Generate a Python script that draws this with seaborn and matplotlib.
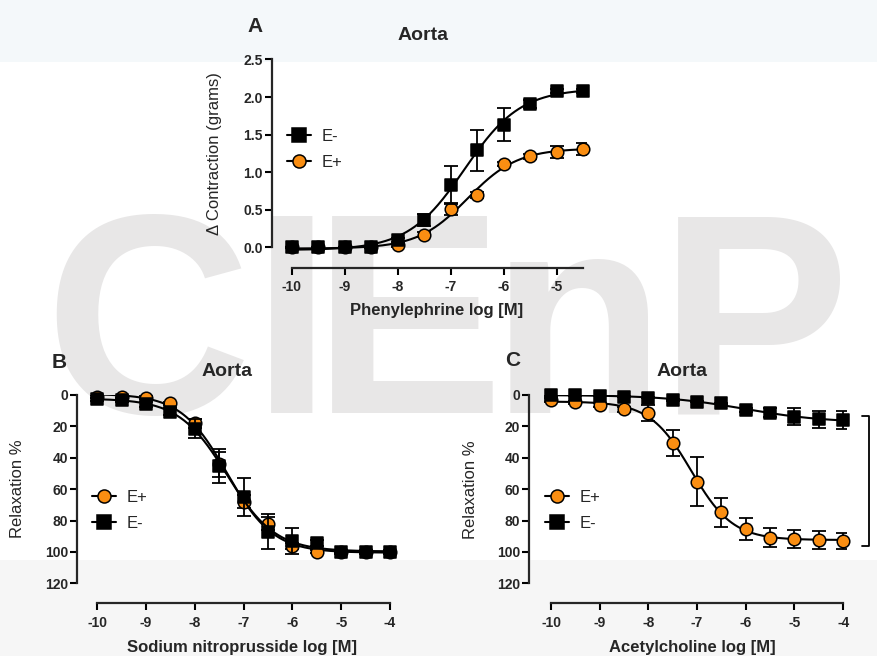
import numpy as np
import pandas as pd
import matplotlib
matplotlib.use("Agg")
import matplotlib.pyplot as plt
import seaborn as sns
from matplotlib.lines import Line2D
from matplotlib.patches import Rectangle
import matplotlib.transforms as mtransforms

# ---------------- data ----------------
conc_A = [-10, -9.5, -9, -8.5, -8, -7.5, -7, -6.5, -6, -5.5, -5, -4.5]
pe_Eminus = [0.0, 0.0, 0.0, 0.01, 0.10, 0.37, 0.83, 1.29, 1.63, 1.91, 2.08, 2.08]
pe_Eminus_sem = [0.01, 0.01, 0.01, 0.01, 0.03, 0.08, 0.25, 0.27, 0.22, 0.05, 0.03, 0.03]
pe_Eplus = [0.0, 0.0, 0.0, 0.0, 0.03, 0.17, 0.51, 0.70, 1.11, 1.21, 1.27, 1.31]
pe_Eplus_sem = [0.01, 0.01, 0.01, 0.01, 0.02, 0.03, 0.08, 0.04, 0.03, 0.03, 0.085, 0.08]

conc_BC = [-10, -9.5, -9, -8.5, -8, -7.5, -7, -6.5, -6, -5.5, -5, -4.5, -4]
snp_Eplus = [1.0, 1.0, 1.7, 5.3, 18.0, 44.0, 68.0, 82.0, 96.0, 99.9, 100.0, 100.0, 100.0]
snp_Eplus_sem = [1, 1, 1, 1, 3, 8, 4, 4, 2, 1, 0.5, 0.5, 0.5]
snp_Eminus = [2.8, 3.2, 5.9, 10.6, 21.5, 45.2, 64.8, 87.0, 93.0, 94.5, 100.0, 100.0, 100.0]
snp_Eminus_sem = [1, 1, 1.5, 2, 6, 11, 12, 11, 8, 2, 1, 1, 1]

ach_Eplus = [3.2, 4.7, 6.4, 9.1, 11.3, 30.4, 55.2, 74.8, 85.6, 90.9, 91.7, 92.4, 92.8]
ach_Eplus_sem = [1, 1, 1, 1.5, 5, 8.3, 15.4, 9.5, 7, 6, 6, 6, 5]
ach_Eminus = [0.0, 0.0, 0.4, 1.0, 1.7, 3.2, 4.2, 5.3, 9.6, 11.3, 13.8, 15.5, 15.9]
ach_Eminus_sem = [0.5, 0.5, 0.5, 0.5, 0.5, 0.5, 0.5, 0.5, 1.5, 3, 5.3, 5.6, 5.8]

bracket_C = [13.4, 96.2]

labels_A = ["E-", "E+"]
labels_BC = ["E+", "E-"]
ticks_x_A = [-10, -9, -8, -7, -6, -5]
ticks_x_BC = [-10, -9, -8, -7, -6, -5, -4]
ticks_y_A = [0.0, 0.5, 1.0, 1.5, 2.0, 2.5]
ticks_y_BC = [0, 20, 40, 60, 80, 100, 120]

ORANGE = "#fa8e12"

# ---------------- style ----------------
sns.set_style("ticks")
plt.rcParams["font.family"] = ["Liberation Sans", "DejaVu Sans"]

W, H = 878, 656
fig = plt.figure(figsize=(W / 100, H / 100), dpi=100)
fig.patch.set_facecolor("white")

# background bands and watermark
fig.patches.append(Rectangle((0, 1 - 62 / H), 1, 62 / H, transform=fig.transFigure,
                             facecolor="#f4f8fa", edgecolor="none", zorder=-3))
fig.patches.append(Rectangle((0, 0), 1, (H - 560) / H, transform=fig.transFigure,
                             facecolor="#f6f6f6", edgecolor="none", zorder=-3))
for ch, cx in zip("CIEnP", [148, 292, 408, 578, 754]):
    fig.text(cx / W, 1 - 413 / H, ch, ha="center", va="baseline", fontsize=206,
             fontweight="bold", color="#e8e7e7", zorder=-2)


def add_ax(left, top, width, height):
    ax = fig.add_axes([left / W, 1 - (top + height) / H, width / W, height / H])
    ax.set_facecolor("none")
    return ax


def fit_sigmoid(x, y):
    x = np.asarray(x, float)
    y = np.asarray(y, float)
    ecs = np.arange(-10.0, -3.0, 0.01)
    hs = np.arange(0.3, 3.0, 0.02)
    EC, HH = np.meshgrid(ecs, hs, indexing="ij")
    F = 1.0 / (1.0 + 10 ** ((EC[..., None] - x) * HH[..., None]))
    fm = F.mean(-1, keepdims=True)
    ym = y.mean()
    cov = ((F - fm) * (y - ym)).sum(-1)
    var = ((F - fm) ** 2).sum(-1) + 1e-12
    slope = cov / var
    inter = ym - slope * fm[..., 0]
    pred = inter[..., None] + slope[..., None] * F
    sse = ((pred - y) ** 2).sum(-1)
    i = np.unravel_index(np.argmin(sse), sse.shape)
    ec, h, b, t = EC[i], HH[i], inter[i], slope[i]
    xs = np.linspace(x.min(), x.max(), 300)
    ys = b + t / (1.0 + 10 ** ((ec - xs) * h))
    return xs, ys


def draw_series(ax, x, y, err, marker, face, z):
    xs, ys = fit_sigmoid(x, y)
    sns.lineplot(x=xs, y=ys, ax=ax, color="black", lw=1.5, sort=False,
                 estimator=None, zorder=z, legend=False)
    ax.errorbar(x, y, yerr=err, fmt="none", ecolor="black", elinewidth=1.3,
                capsize=4.7, capthick=1.3, zorder=z + 0.5)
    sns.scatterplot(x=x, y=y, ax=ax, marker=marker, s=82, color=face,
                    edgecolor="black", linewidth=1.1, zorder=z + 1, clip_on=False,
                    legend=False)


def style_ax(ax, xb, yb, xt, yt, yfmt):
    sns.despine(ax=ax)
    ax.spines["left"].set_bounds(*yb)
    ax.spines["bottom"].set_bounds(*xb)
    for s in ("left", "bottom"):
        ax.spines[s].set_linewidth(1.6)
    ax.set_xticks(xt)
    ax.set_yticks(yt)
    ax.set_xticklabels([f"{v:d}" for v in xt])
    ax.set_yticklabels([yfmt(v) for v in yt])
    ax.tick_params(axis="both", width=1.5, length=5, labelsize=10, color="black")
    ax.tick_params(axis="y", pad=1.5)
    ax.tick_params(axis="x", pad=4)
    for lab in ax.get_xticklabels() + ax.get_yticklabels():
        lab.set_fontweight("bold")


def set_labels(ax, xlabel, ylabel, xpos, ypos):
    ax.set_xlabel(xlabel, fontsize=12, fontweight="bold")
    ax.set_ylabel(ylabel, fontsize=12)
    ax.xaxis.set_label_coords(*xpos)
    ax.yaxis.set_label_coords(*ypos)


def make_legend(ax, labels, markers, faces, x0, ytop):
    handles = [Line2D([], [], color="black", lw=1.5, marker=m, markersize=9.4,
                      markerfacecolor=f, markeredgecolor="black", markeredgewidth=1.1)
               for m, f in zip(markers, faces)]
    ax.legend(handles, labels, loc="upper left", bbox_to_anchor=(x0 / W, 1 - ytop / H),
              bbox_transform=fig.transFigure, frameon=False, fontsize=12, borderpad=0,
              borderaxespad=0, handlelength=1.44, handletextpad=0.66, labelspacing=0.68)


# ---------------- panel A ----------------
axA = add_ax(272, 59.5, 313.6, 208.5)
draw_series(axA, conc_A, pe_Eplus, pe_Eplus_sem, "o", ORANGE, 2)
draw_series(axA, conc_A, pe_Eminus, pe_Eminus_sem, "s", "black", 4)
axA.set_xlim(-10.378, -4.45)
axA.set_ylim(-0.273, 2.5)
style_ax(axA, (-10, -4.5), (0, 2.5), ticks_x_A, ticks_y_A, lambda v: f"{v:.1f}")
set_labels(axA, "Phenylephrine log [M]", "\u0394 Contraction (grams)", (0.524, -0.17), (-0.159, 0.547))
make_legend(axA, labels_A, ["s", "o"], ["black", ORANGE], 287, 129)

# ---------------- panel B ----------------
axB = add_ax(77.3, 395, 315.2, 208.3)
draw_series(axB, conc_BC, snp_Eplus, snp_Eplus_sem, "o", ORANGE, 2)
draw_series(axB, conc_BC, snp_Eminus, snp_Eminus_sem, "s", "black", 4)
axB.set_xlim(-10.41, -3.95)
axB.set_ylim(132.7, 0)
style_ax(axB, (-10, -4), (0, 120), ticks_x_BC, ticks_y_BC, lambda v: f"{v:d}")
set_labels(axB, "Sodium nitroprusside log [M]", "Relaxation %", (0.5216, -0.178), (-0.166, 0.548))
make_legend(axB, labels_BC, ["o", "s"], [ORANGE, "black"], 91.5, 489.5)

# ---------------- panel C ----------------
axC = add_ax(529, 395, 316.6, 208.3)
draw_series(axC, conc_BC, ach_Eplus, ach_Eplus_sem, "o", ORANGE, 2)
draw_series(axC, conc_BC, ach_Eminus, ach_Eminus_sem, "s", "black", 4)
axC.set_xlim(-10.452, -3.95)
axC.set_ylim(132.7, 0)
style_ax(axC, (-10, -4), (0, 120), ticks_x_BC, ticks_y_BC, lambda v: f"{v:d}")
set_labels(axC, "Acetylcholine log [M]", "Relaxation %", (0.517, -0.178), (-0.161, 0.545))
make_legend(axC, labels_BC, ["o", "s"], [ORANGE, "black"], 544.5, 489.5)

# bracket on the right of panel C
tr = mtransforms.blended_transform_factory(axC.transAxes, axC.transData)
bx = (869.3 - 529) / 316.6
tick = 7 / 316.6
axC.plot([bx - tick, bx, bx, bx - tick], [bracket_C[0], bracket_C[0], bracket_C[1], bracket_C[1]],
         transform=tr, color="black", lw=1.3, clip_on=False)

# titles and panel letters
for (x, y) in [(422.7, 35), (227, 371), (681.7, 371)]:
    fig.text(x / W, 1 - y / H, "Aorta", ha="center", va="center", fontsize=14, fontweight="bold")
for (x, y, t) in [(255, 27, "A"), (59, 362, "B"), (513, 360, "C")]:
    fig.text(x / W, 1 - y / H, t, ha="center", va="center", fontsize=15, fontweight="bold")

fig.savefig("out.png", dpi=100)
